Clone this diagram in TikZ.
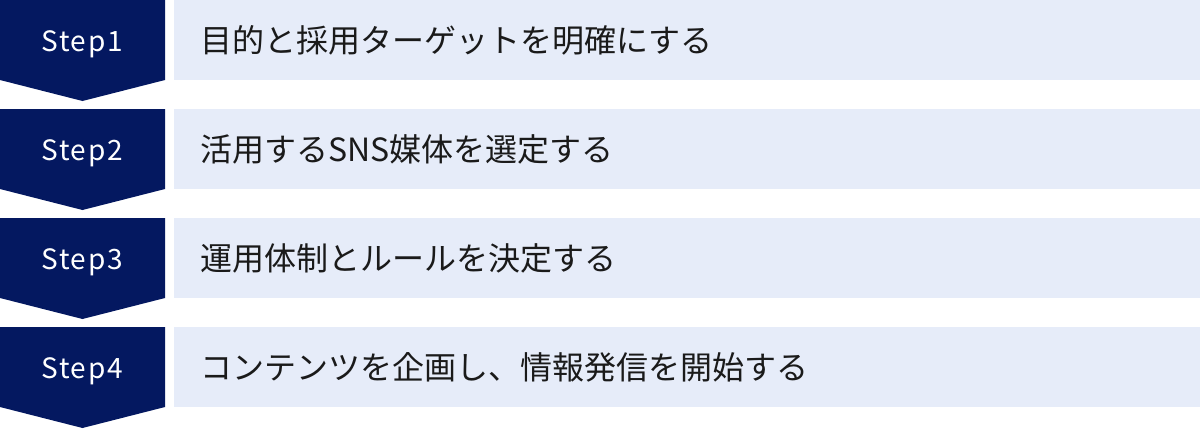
\documentclass[tikz,border=0pt]{standalone}
\usepackage{fontspec}
\setmainfont{Noto Sans CJK JP}
\newfontfamily\stepfont[LetterSpace=6]{Noto Sans CJK JP}
\definecolor{navy}{RGB}{4,24,96}
\definecolor{pale}{RGB}{230,236,249}
\definecolor{ink}{RGB}{26,26,26}
\tikzset{
  stepshape/.style={fill=navy, draw=none},
  steplabel/.style={text=white, font=\stepfont\fontsize{28}{32}\selectfont, inner sep=0pt, anchor=base},
  bar/.style={fill=pale, draw=none},
  bartext/.style={text=ink, font=\fontsize{32}{36}\selectfont, inner sep=0pt, anchor=west}
}
\begin{document}
\begin{tikzpicture}[x=1pt,y=-1pt]
\useasboundingbox (0,0) rectangle (1200,429);
\foreach \i/\t in {1/目的と採用ターゲットを明確にする,2/活用するSNS媒体を選定する,3/運用体制とルールを決定する,4/コンテンツを企画し、情報発信を開始する}{
  \pgfmathsetmacro{\top}{(\i-1)*109}
  \fill[stepshape] (0,\top) -- (165,\top) -- (165,\top+80) -- (82.5,\top+101) -- (0,\top+80) -- cycle;
  \node[steplabel] (s\i) at (82,\top+51) {Step\i};
  \fill[bar] (174,\top) rectangle (1200,\top+80);
  \node[bartext] (t\i) at (200,\top+40) {\t};
}
\end{tikzpicture}
\end{document}
